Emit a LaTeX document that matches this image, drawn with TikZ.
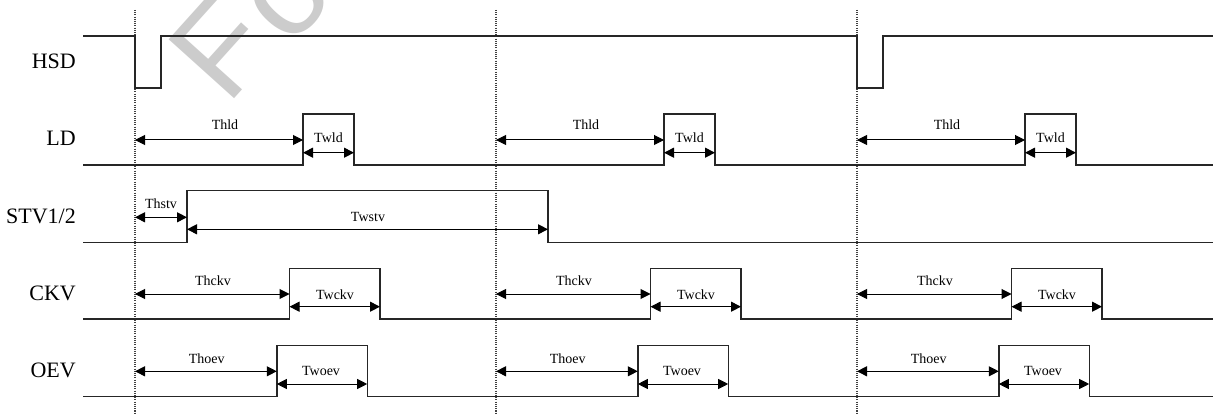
\documentclass[tikz,border=0pt]{standalone}
\usepackage{fontspec}
\setmainfont{Liberation Serif}
\newfontfamily\wmfont{Liberation Sans}
\usetikzlibrary{arrows.meta}
\begin{document}
\begin{tikzpicture}[x=1pt,y=-1pt,
  sig/.style={line width=1.4pt, draw=black!85, line join=miter},
  dim/.style={line width=1pt, {Triangle[length=10pt,width=10pt]}-{Triangle[length=10pt,width=10pt]}},
  guide/.style={line width=1.1pt, draw=black!75, dash pattern=on 1.1pt off 1.1pt},
  siglabel/.style={anchor=base east, font=\fontsize{22}{26}\selectfont, inner sep=0pt},
  tlabel/.style={anchor=base, font=\fontsize{14}{16}\selectfont, inner sep=0pt},
  wm/.style={rotate=48, anchor=base west, text=black!20, inner sep=0pt, font=\wmfont\fontsize{128}{128}\selectfont}]
\useasboundingbox (0,0) rectangle (1213,414);
\clip (0,0) rectangle (1213,414);
\fill[white] (0,0) rectangle (1213,414);
% watermark
\node[wm] (wmf) at (227,107) {F};
\node[wm] (wmo) at (290,49) {o};
% guides
\foreach \g in {135,496,857} \draw[guide] (\g,10) -- (\g,414);
% signal names
\node[siglabel] (lhsd) at (76,68.3) {HSD};
\node[siglabel] (lld) at (76,146) {LD};
\node[siglabel] (lstv) at (76,223.3) {STV1/2};
\node[siglabel] (lckv) at (76,300) {CKV};
\node[siglabel] (loev) at (76,377) {OEV};
% waveforms
\draw[sig] (83,36) -- (135,36) -- (135,88) -- (161,88) -- (161,36) -- (857,36) -- (857,88) -- (883,88) -- (883,36) -- (1213,36);
\draw[sig] (83,165) -- (303,165) -- (303,114) -- (354,114) -- (354,165) -- (664,165) -- (664,114) -- (715,114) -- (715,165) -- (1025,165) -- (1025,114) -- (1076,114) -- (1076,165) -- (1213,165);
\draw[sig] (83,242.3) -- (187,242.3) -- (187,190.7) -- (548,190.7) -- (548,242.3) -- (1213,242.3);
\draw[sig] (83,319) -- (289.5,319) -- (289.5,268.3) -- (380,268.3) -- (380,319) -- (650.5,319) -- (650.5,268.3) -- (741,268.3) -- (741,319) -- (1011.5,319) -- (1011.5,268.3) -- (1102,268.3) -- (1102,319) -- (1213,319);
\draw[sig] (83,396.7) -- (276.8,396.7) -- (276.8,345.3) -- (367.2,345.3) -- (367.2,396.7) -- (637.8,396.7) -- (637.8,345.3) -- (728.2,345.3) -- (728.2,396.7) -- (998.8,396.7) -- (998.8,345.3) -- (1089.2,345.3) -- (1089.2,396.7) -- (1213,396.7);
% STV dimensions
\draw[dim] (135,217.3) -- (187,217.3);
\draw[dim] (187,229.3) -- (548,229.3);
\node[tlabel] (thstv) at (161,208.3) {Thstv};
\node[tlabel] (twstv) at (368,221.7) {Twstv};
% periodic dimensions
\foreach \g in {135,496,857} {
  \draw[dim] (\g,140) -- ({\g+168},140);
  \draw[dim] ({\g+168},152.7) -- ({\g+219},152.7);
  \node[tlabel] at ({\g+90},130) {Thld};
  \node[tlabel] at ({\g+193.5},143) {Twld};
  \draw[dim] (\g,294) -- ({\g+154.5},294);
  \draw[dim] ({\g+154.5},306.7) -- ({\g+245},306.7);
  \node[tlabel] at ({\g+78},285) {Thckv};
  \node[tlabel] at ({\g+200},299) {Twckv};
  \draw[dim] (\g,371.3) -- ({\g+141.8},371.3);
  \draw[dim] ({\g+141.8},384) -- ({\g+232.2},384);
  \node[tlabel] at ({\g+71.7},363) {Thoev};
  \node[tlabel] at ({\g+186},375.7) {Twoev};
}
\end{tikzpicture}
\end{document}
